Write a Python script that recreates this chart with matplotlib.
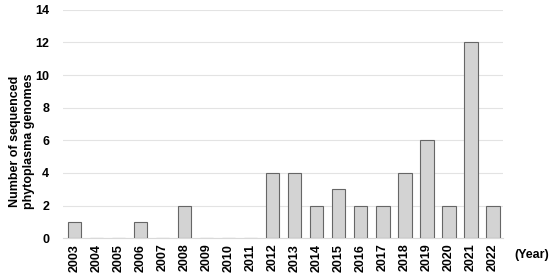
import matplotlib.pyplot as plt

# 연도별 시퀀싱된 파이토플라스마 게놈 수
years = [str(y) for y in range(2003, 2023)]
counts = [1, 0, 0, 1, 0, 2, 0, 0, 0, 4, 4, 2, 3, 2, 2, 4, 6, 2, 12, 2]

plt.rcParams['font.family'] = ['Liberation Sans', 'DejaVu Sans']

fig = plt.figure(figsize=(5.5, 2.74), dpi=100)
ax = fig.add_axes([0.1145, 0.131, 0.80, 0.833])

x = range(len(years))
ax.bar(x, counts, width=0.6, color='#d3d3d3', edgecolor='#666666', linewidth=0.8, zorder=3)

ax.set_ylim(0, 14)
ax.set_yticks(range(0, 15, 2))
ax.set_xlim(-0.52, len(years) - 0.55)
ax.set_xticks(list(x))
ax.set_xticklabels(years, rotation=90, fontweight='bold', fontsize=9)
for lbl in ax.get_yticklabels():
    lbl.set_fontweight('bold')
    lbl.set_fontsize(9)

ax.grid(axis='y', color='#e3e3e3', linewidth=0.8, zorder=0)
for s in ['top', 'right', 'left']:
    ax.spines[s].set_visible(False)
ax.spines['bottom'].set_color('#d9d9d9')
ax.tick_params(axis='y', length=0, pad=10)
ax.tick_params(axis='x', length=0, pad=4)

# y축 레이블은 그림 좌표로 직접 배치
fig.text(0.04, 0.485, 'Number of sequenced\nphytoplasma genomes', rotation=90,
         ha='center', va='center', fontweight='bold', fontsize=9, multialignment='center')
fig.text(0.935, 0.06, '(Year)', fontweight='bold', fontsize=9)

fig.savefig('out.png', dpi=100)
